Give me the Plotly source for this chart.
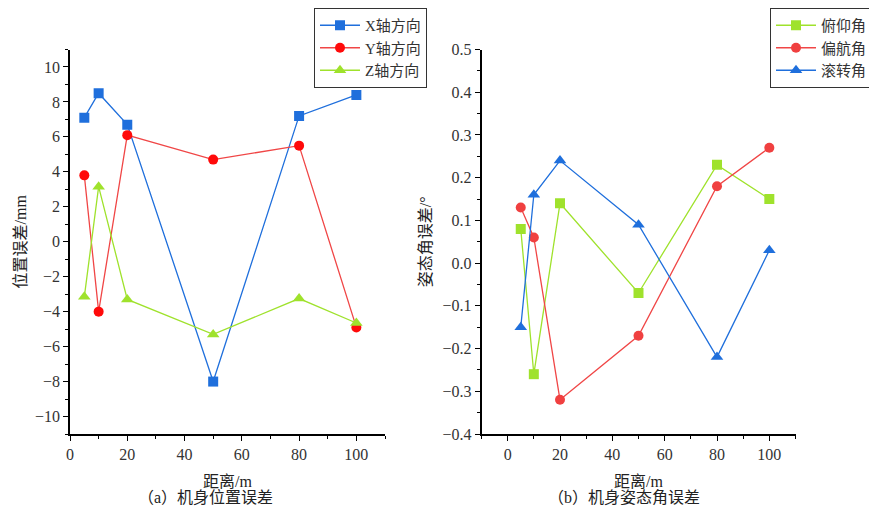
import plotly.graph_objects as go

# ---- data ----
dist = [5, 10, 20, 50, 80, 100]
x_err = [7.1, 8.5, 6.7, -8.0, 7.2, 8.4]
y_err = [3.8, -4.0, 6.1, 4.7, 5.5, -4.9]
z_err = [-3.15, 3.15, -3.3, -5.3, -3.25, -4.65]

pitch = [0.08, -0.26, 0.14, -0.07, 0.23, 0.15]
yaw = [0.13, 0.06, -0.32, -0.17, 0.18, 0.27]
roll = [-0.15, 0.16, 0.24, 0.09, -0.22, 0.03]

names_a = ["X轴方向", "Y轴方向", "Z轴方向"]
names_b = ["俯仰角", "偏航角", "滚转角"]

BLUE = "#1f6fdc"
RED_M = "#ff0a0a"
RED_L = "#f04646"
RED_M2 = "#f04040"
GREEN = "#9fe22c"

FONT = "Liberation Serif, Noto Sans CJK SC, serif"

fig = go.Figure()

fig.add_trace(go.Scatter(x=dist, y=x_err, name=names_a[0], mode="lines+markers",
                         line=dict(color=BLUE, width=1.3),
                         marker=dict(symbol="square", size=10, color=BLUE),
                         xaxis="x", yaxis="y", legend="legend"))
fig.add_trace(go.Scatter(x=dist, y=y_err, name=names_a[1], mode="lines+markers",
                         line=dict(color=RED_L, width=1.3),
                         marker=dict(symbol="circle", size=10, color=RED_M),
                         xaxis="x", yaxis="y", legend="legend"))
fig.add_trace(go.Scatter(x=dist, y=z_err, name=names_a[2], mode="lines+markers",
                         line=dict(color=GREEN, width=1.3),
                         marker=dict(symbol="triangle-up", size=11, color=GREEN),
                         xaxis="x", yaxis="y", legend="legend"))

fig.add_trace(go.Scatter(x=dist, y=pitch, name=names_b[0], mode="lines+markers",
                         line=dict(color=GREEN, width=1.3),
                         marker=dict(symbol="square", size=10, color=GREEN),
                         xaxis="x2", yaxis="y2", legend="legend2"))
fig.add_trace(go.Scatter(x=dist, y=yaw, name=names_b[1], mode="lines+markers",
                         line=dict(color=RED_L, width=1.3),
                         marker=dict(symbol="circle", size=10, color=RED_M2),
                         xaxis="x2", yaxis="y2", legend="legend2"))
fig.add_trace(go.Scatter(x=dist, y=roll, name=names_b[2], mode="lines+markers",
                         line=dict(color=BLUE, width=1.3),
                         marker=dict(symbol="triangle-up", size=11, color=BLUE),
                         xaxis="x2", yaxis="y2", legend="legend2"))

W, H = 869, 510
ydom = [(H - 434) / H, (H - 49.5) / H]

axis_common = dict(showline=True, linecolor="black", linewidth=1.5, ticks="outside",
                   ticklen=5, tickwidth=1.3, tickcolor="black", showgrid=False,
                   zeroline=False, mirror=False,
                   tickfont=dict(family=FONT, size=16, color="#333"))

fig.update_layout(
    width=W, height=H,
    margin=dict(l=0, r=0, t=0, b=0, autoexpand=False),
    paper_bgcolor="white", plot_bgcolor="white",
    font=dict(family=FONT, size=16, color="#222"),
    xaxis=dict(domain=[70 / W, 385 / W], range=[0, 110], dtick=20, anchor="y",
               minor=dict(ticks="outside", dtick=10, ticklen=3, tickcolor="black"),
               title=dict(text="距离/m", standoff=14, font=dict(size=16)),
               **axis_common),
    yaxis=dict(domain=ydom, range=[-11, 11], dtick=2, anchor="x",
               minor=dict(ticks="outside", dtick=1, ticklen=3, tickcolor="black"),
               title=dict(text="位置误差/mm", standoff=4, font=dict(size=16)),
               **axis_common),
    xaxis2=dict(domain=[481.5 / W, 795.5 / W], range=[-10, 110], dtick=20, tick0=0,
                anchor="y2",
                minor=dict(ticks="outside", dtick=10, tick0=0, ticklen=3, tickcolor="black"),
                title=dict(text="距离/m", standoff=14, font=dict(size=16)),
                **axis_common),
    yaxis2=dict(domain=ydom, range=[-0.4, 0.5], dtick=0.1, tickformat=".1f", anchor="x2",
                minor=dict(ticks="outside", dtick=0.05, ticklen=3, tickcolor="black"),
                title=dict(text="姿态角误差/°", standoff=7, font=dict(size=16)),
                **axis_common),
    legend=dict(x=314 / W, y=1 - 8 / H, xanchor="left", yanchor="top",
                bordercolor="#333", borderwidth=1, bgcolor="white",
                font=dict(family=FONT, size=15, color="#333"),
                tracegroupgap=0, itemwidth=40),
    legend2=dict(x=770 / W, y=1 - 8 / H, xanchor="left", yanchor="top",
                 bordercolor="#333", borderwidth=1, bgcolor="white",
                 font=dict(family=FONT, size=15, color="#333"),
                 tracegroupgap=0, itemwidth=40),
    annotations=[
        dict(text="（a）机身位置误差", x=205 / W, y=(H - 497) / H, xref="paper", yref="paper",
             showarrow=False, font=dict(size=16, color="#222"), xanchor="center", yanchor="middle"),
        dict(text="（b）机身姿态角误差", x=624 / W, y=(H - 497) / H, xref="paper", yref="paper",
             showarrow=False, font=dict(size=16, color="#222"), xanchor="center", yanchor="middle"),
    ],
)

fig.write_html("out.html", config={"displayModeBar": False},
               post_script="document.body.style.margin='0px';")
